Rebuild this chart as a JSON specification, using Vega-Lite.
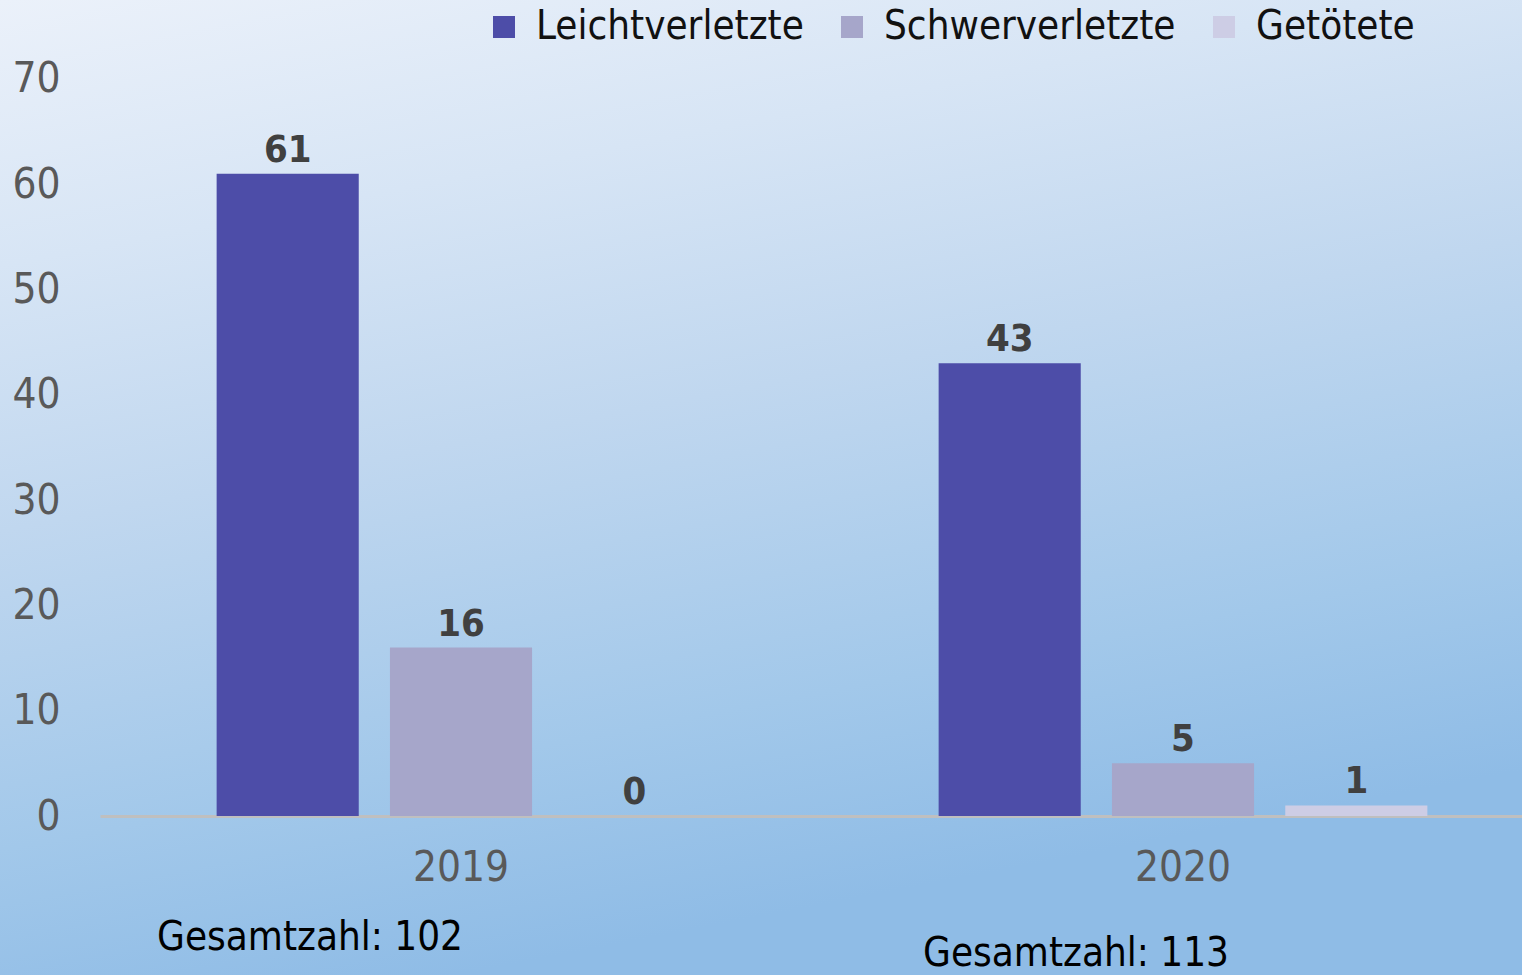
{
  "$schema": "https://vega.github.io/schema/vega-lite/v6.json",
  "width": 1522,
  "height": 975,
  "autosize": {"type": "none"},
  "padding": 0,
  "background": "#cfe0f3",
  "view": {
    "stroke": null,
    "fill": {
      "gradient": "linear",
      "x1": 0, "y1": 0, "x2": 0.3, "y2": 1,
      "stops": [
        {"offset": 0, "color": "#ebf1fa"},
        {"offset": 0.25, "color": "#d7e5f5"},
        {"offset": 0.5, "color": "#c0d7ef"},
        {"offset": 0.8, "color": "#a2c8ea"},
        {"offset": 1, "color": "#8fbce6"}
      ]
    }
  },
  "config": {
    "font": "DejaVu Sans Condensed, Roboto, sans-serif",
    "axis": {"grid": false, "ticks": false, "tickSize": 0, "labelFont": "DejaVu Sans Condensed, Roboto, sans-serif", "labelFontSize": 42, "labelColor": "#595959", "title": null},
    "legend": {"labelFont": "DejaVu Sans Condensed, Roboto, sans-serif", "labelFontSize": 40, "labelColor": "#111111", "padding": 0, "labelLimit": 0}
  },
  "datasets": {
    "counts": [
      {"year": "2019", "series": "Leichtverletzte", "value": 61},
      {"year": "2019", "series": "Schwerverletzte", "value": 16},
      {"year": "2019", "series": "Getötete", "value": 0},
      {"year": "2020", "series": "Leichtverletzte", "value": 43},
      {"year": "2020", "series": "Schwerverletzte", "value": 5},
      {"year": "2020", "series": "Getötete", "value": 1}
    ],
    "totals": [
      {"year": "2019", "total": "Gesamtzahl: 102"},
      {"year": "2020", "total": "Gesamtzahl: 113"}
    ]
  },
  "layer": [
    {
      "data": {"name": "counts"},
      "mark": {"type": "bar"},
      "encoding": {
        "x": {
          "field": "year", "type": "nominal",
          "scale": {"range": [100, 1544], "paddingInner": 0, "paddingOuter": 0},
          "axis": {"orient": "bottom", "offset": -159, "domain": true, "domainColor": "#bfbfbf", "domainWidth": 3, "labelPadding": 31, "labelAngle": 0}
        },
        "y": {
          "field": "value", "type": "quantitative",
          "scale": {"domain": [-15.1, 77.5], "nice": false, "zero": false},
          "axis": {"values": [0, 10, 20, 30, 40, 50, 60, 70], "domain": false, "labelPadding": -60, "labelAlign": "right"}
        },
        "xOffset": {"field": "series", "type": "nominal", "sort": ["Leichtverletzte", "Schwerverletzte", "Getötete"], "scale": {"paddingInner": 0.18, "paddingOuter": 0.673}},
        "color": {
          "field": "series", "type": "nominal",
          "sort": ["Leichtverletzte", "Schwerverletzte", "Getötete"],
          "scale": {"domain": ["Leichtverletzte", "Schwerverletzte", "Getötete"], "range": ["#4d4da8", "#a6a6ca", "#cdcde5"]},
          "legend": {"title": null, "orient": "none", "legendX": 484, "legendY": 7, "direction": "horizontal", "symbolType": "square", "symbolSize": 484, "symbolStrokeWidth": 0, "labelOffset": 12, "columnPadding": 28}
        }
      }
    },
    {
      "data": {"name": "counts"},
      "mark": {"type": "text", "dy": -12, "baseline": "alphabetic", "fontSize": 38, "fontWeight": "bold", "color": "#404040"},
      "encoding": {
        "x": {"field": "year", "type": "nominal"},
        "y": {"field": "value", "type": "quantitative"},
        "xOffset": {"field": "series", "type": "nominal", "sort": ["Leichtverletzte", "Schwerverletzte", "Getötete"]},
        "text": {"field": "value", "type": "quantitative"}
      }
    },
    {
      "data": {"name": "totals"},
      "transform": [{"filter": "datum.year == '2019'"}],
      "mark": {"type": "text", "dx": -151, "dy": 134, "baseline": "alphabetic", "align": "center", "fontSize": 40, "color": "#000000"},
      "encoding": {
        "x": {"field": "year", "type": "nominal"},
        "y": {"datum": 0, "type": "quantitative"},
        "text": {"field": "total", "type": "nominal"}
      }
    },
    {
      "data": {"name": "totals"},
      "transform": [{"filter": "datum.year == '2020'"}],
      "mark": {"type": "text", "dx": -107, "dy": 150, "baseline": "alphabetic", "align": "center", "fontSize": 40, "color": "#000000"},
      "encoding": {
        "x": {"field": "year", "type": "nominal"},
        "y": {"datum": 0, "type": "quantitative"},
        "text": {"field": "total", "type": "nominal"}
      }
    }
  ]
}
